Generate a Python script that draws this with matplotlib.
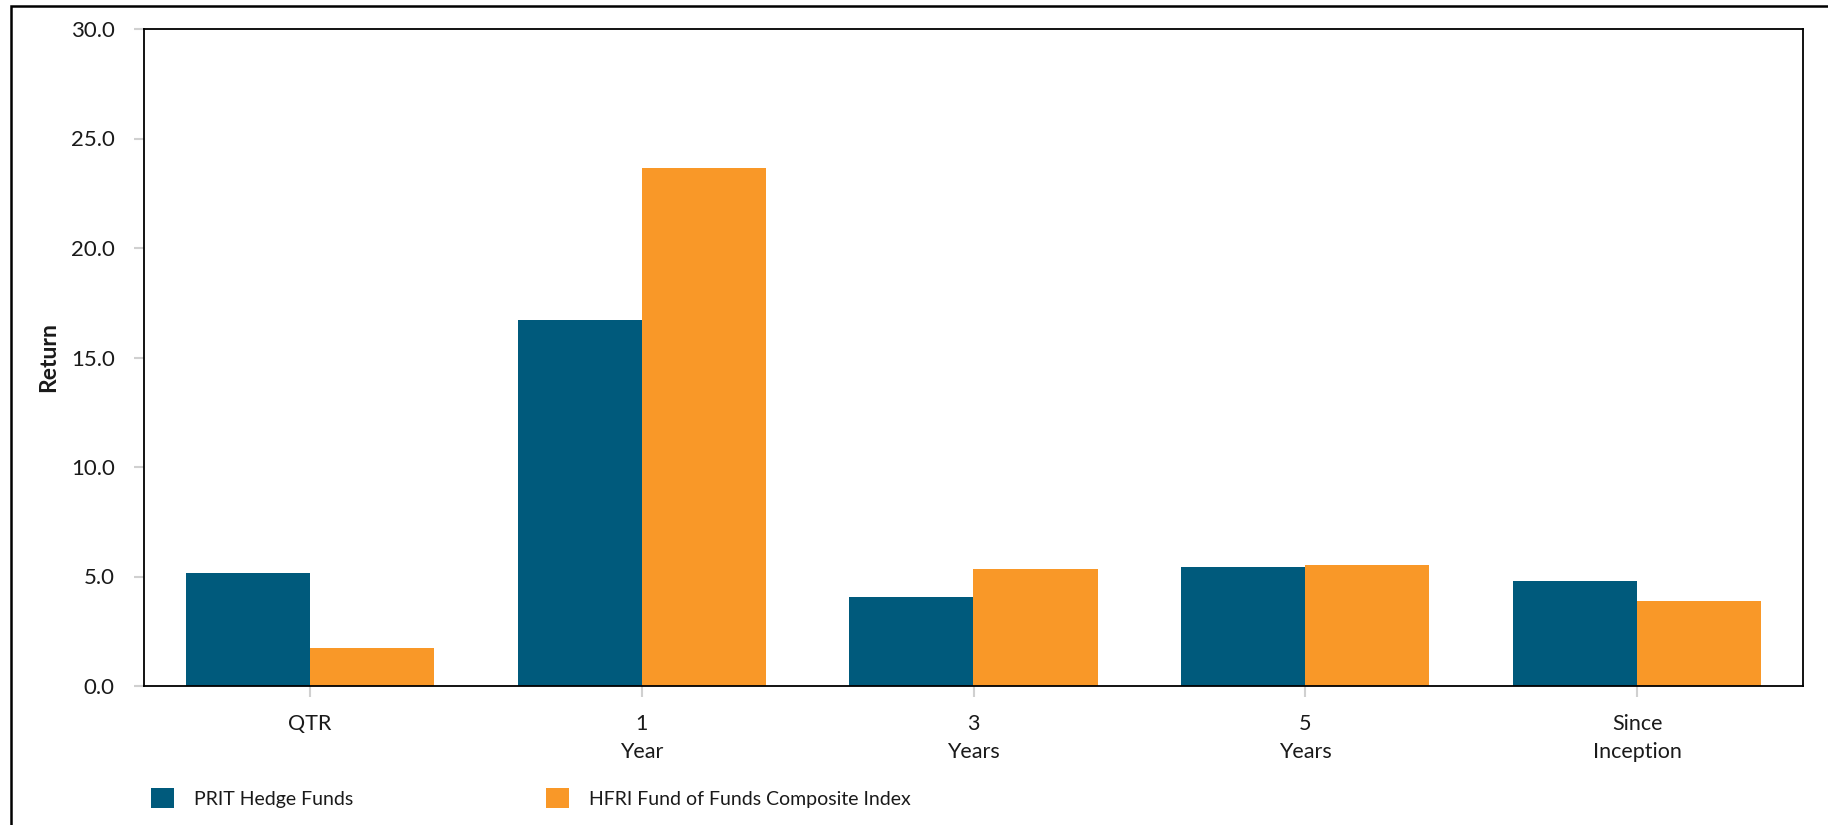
import matplotlib
matplotlib.use("Agg")
import matplotlib.pyplot as plt
from matplotlib.patches import Rectangle, Patch
import numpy as np

categories = ["QTR", "1\nYear", "3\nYears", "5\nYears", "Since\nInception"]
prit = [5.16, 16.71, 4.06, 5.43, 4.79]
hfri = [1.74, 23.65, 5.34, 5.52, 3.88]
series_names = ["PRIT Hedge Funds", "HFRI Fund of Funds Composite Index"]
yticks = [0, 5, 10, 15, 20, 25, 30]

teal = "#005A7C"
orange = "#F99828"

plt.rcParams['font.family'] = ['Lato', 'DejaVu Sans']

W, H = 1828, 825
fig = plt.figure(figsize=(W/100, H/100), dpi=100)
fig.patch.set_facecolor("white")

# outer frame (cropped)
fig.patches.append(Rectangle((11/W, -0.2), 1.2, 1 - 6/H + 0.2, transform=fig.transFigure,
                             fill=False, edgecolor="black", linewidth=1.8, zorder=0))

ax = fig.add_axes([144/W, 1 - 686/H, (1803-144)/W, (686-29)/H])
x = np.arange(len(categories))
bw = 0.374
b1 = ax.bar(x - bw/2, prit, bw, color=teal, linewidth=0, label=series_names[0])
b2 = ax.bar(x + bw/2, hfri, bw, color=orange, linewidth=0, label=series_names[1])

ax.set_xlim(-0.5, len(categories) - 0.5)
ax.set_ylim(0, 30)
ax.set_yticks(yticks)
ax.set_yticklabels([f"{v:.1f}" for v in yticks], fontsize=16, color="#1a1a1a")
ax.set_xticks(x)
ax.set_xticklabels(categories, fontsize=15.5, color="#1a1a1a", linespacing=1.5)
ax.tick_params(axis='y', length=7, width=1.5, color="#d0d0d0", pad=14)
ax.tick_params(axis='x', length=8, width=1.5, color="#d0d0d0", pad=12)
for s in ax.spines.values():
    s.set_linewidth(1.3)
    s.set_color("black")

t = fig.text(49/W, 1 - 357/H, "Return", rotation=90, ha="center", va="center",
             fontsize=16.5, fontweight="bold", color="#1a1a1a")

leg1 = fig.legend(handles=[Patch(facecolor=teal, edgecolor='none')], labels=[series_names[0]],
                  loc="center left", bbox_to_anchor=(151/W, 1 - 798/H), frameon=False,
                  fontsize=14, handlelength=1.2, handleheight=1.25, handletextpad=1.0,
                  borderpad=0, borderaxespad=0)
leg2 = fig.legend(handles=[Patch(facecolor=orange, edgecolor='none')], labels=[series_names[1]],
                  loc="center left", bbox_to_anchor=(546/W, 1 - 798/H), frameon=False,
                  fontsize=14, handlelength=1.2, handleheight=1.25, handletextpad=1.0,
                  borderpad=0, borderaxespad=0)
for lg in (leg1, leg2):
    for tx in lg.get_texts():
        tx.set_color("#1a1a1a")

fig.savefig("out.png", dpi=100)
